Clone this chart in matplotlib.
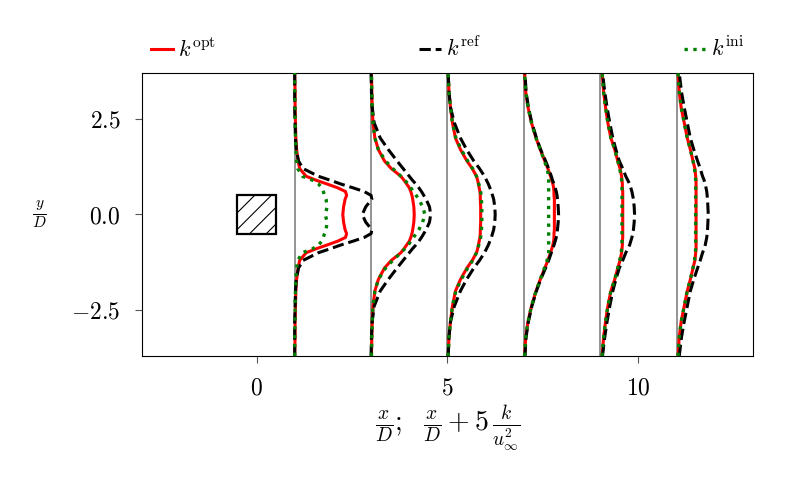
import matplotlib
matplotlib.use("Agg")
import matplotlib.pyplot as plt
from matplotlib.patches import Rectangle

# x/D positions of the sampled profiles
STATIONS = [1, 3, 5, 7, 9, 11]

# y/D sample points (shared by all profiles)
Y = [-3.7, -3.2, -2.8, -2.4, -2.0, -1.7, -1.4, -1.2, -1.0, -0.9, -0.8, -0.7, -0.6, -0.5, -0.4, -0.2,
     0.0, 0.2, 0.4, 0.5, 0.6, 0.7, 0.8, 0.9, 1.0, 1.2, 1.4, 1.7, 2.0, 2.4, 2.8, 3.2, 3.7]

# 5 k / u_inf^2, one row per station
DX_OPT = [
    [0.0, 0.01, 0.01, 0.02, 0.03, 0.05, 0.09, 0.13, 0.3, 0.55, 0.84, 1.12, 1.33, 1.36, 1.32, 1.28, 1.26,
     1.28, 1.32, 1.36, 1.33, 1.12, 0.84, 0.55, 0.3, 0.13, 0.09, 0.05, 0.03, 0.02, 0.01, 0.01, 0.0],
    [0.01, 0.02, 0.03, 0.05, 0.1, 0.19, 0.35, 0.53, 0.78, 0.86, 0.93, 1.0, 1.04, 1.07, 1.09, 1.12, 1.13,
     1.12, 1.09, 1.07, 1.04, 1.0, 0.93, 0.86, 0.78, 0.53, 0.35, 0.19, 0.1, 0.05, 0.03, 0.02, 0.01],
    [0.02, 0.04, 0.08, 0.13, 0.21, 0.34, 0.51, 0.65, 0.76, 0.79, 0.81, 0.83, 0.85, 0.86, 0.86, 0.87, 0.87,
     0.87, 0.86, 0.86, 0.85, 0.83, 0.81, 0.79, 0.76, 0.65, 0.51, 0.34, 0.21, 0.13, 0.08, 0.04, 0.02],
    [0.02, 0.05, 0.11, 0.2, 0.32, 0.43, 0.55, 0.63, 0.7, 0.73, 0.76, 0.78, 0.79, 0.79, 0.8, 0.8, 0.8,
     0.8, 0.8, 0.79, 0.79, 0.78, 0.76, 0.73, 0.7, 0.63, 0.55, 0.43, 0.32, 0.2, 0.11, 0.05, 0.02],
    [0.05, 0.09, 0.14, 0.2, 0.28, 0.38, 0.46, 0.52, 0.56, 0.57, 0.58, 0.58, 0.59, 0.59, 0.59, 0.59, 0.59,
     0.59, 0.59, 0.59, 0.59, 0.58, 0.58, 0.57, 0.56, 0.52, 0.46, 0.38, 0.28, 0.2, 0.14, 0.09, 0.05],
    [0.04, 0.07, 0.12, 0.2, 0.28, 0.36, 0.43, 0.48, 0.5, 0.51, 0.51, 0.51, 0.51, 0.51, 0.51, 0.51, 0.51,
     0.51, 0.51, 0.51, 0.51, 0.51, 0.51, 0.51, 0.5, 0.48, 0.43, 0.36, 0.28, 0.2, 0.12, 0.07, 0.04],
]

DX_REF = [
    [0.0, 0.0, 0.0, 0.01, 0.02, 0.04, 0.1, 0.22, 0.62, 0.92, 1.2, 1.52, 1.82, 2.0, 2.02, 1.86, 1.77,
     1.86, 2.02, 2.0, 1.82, 1.52, 1.2, 0.92, 0.62, 0.22, 0.1, 0.04, 0.02, 0.01, 0.0, 0.0, 0.0],
    [0.0, 0.01, 0.03, 0.08, 0.24, 0.45, 0.68, 0.84, 1.0, 1.08, 1.17, 1.25, 1.32, 1.38, 1.44, 1.53, 1.56,
     1.53, 1.44, 1.38, 1.32, 1.25, 1.17, 1.08, 1.0, 0.84, 0.68, 0.45, 0.24, 0.08, 0.03, 0.01, 0.0],
    [0.02, 0.04, 0.08, 0.18, 0.34, 0.5, 0.69, 0.84, 0.97, 1.02, 1.07, 1.11, 1.15, 1.18, 1.21, 1.24, 1.25,
     1.24, 1.21, 1.18, 1.15, 1.11, 1.07, 1.02, 0.97, 0.84, 0.69, 0.5, 0.34, 0.18, 0.08, 0.04, 0.02],
    [0.03, 0.06, 0.12, 0.21, 0.33, 0.44, 0.57, 0.65, 0.72, 0.75, 0.79, 0.82, 0.85, 0.87, 0.88, 0.9, 0.91,
     0.9, 0.88, 0.87, 0.85, 0.82, 0.79, 0.75, 0.72, 0.65, 0.57, 0.44, 0.33, 0.21, 0.12, 0.06, 0.03],
    [0.06, 0.12, 0.18, 0.25, 0.33, 0.41, 0.5, 0.59, 0.67, 0.72, 0.77, 0.8, 0.83, 0.85, 0.87, 0.89, 0.9,
     0.89, 0.87, 0.85, 0.83, 0.8, 0.77, 0.72, 0.67, 0.59, 0.5, 0.41, 0.33, 0.25, 0.18, 0.12, 0.06],
    [0.07, 0.13, 0.2, 0.28, 0.36, 0.45, 0.55, 0.62, 0.68, 0.72, 0.75, 0.77, 0.79, 0.8, 0.81, 0.82, 0.83,
     0.82, 0.81, 0.8, 0.79, 0.77, 0.75, 0.72, 0.68, 0.62, 0.55, 0.45, 0.36, 0.28, 0.2, 0.13, 0.07],
]

DX_INI = [
    [0.0, 0.0, 0.01, 0.01, 0.02, 0.03, 0.05, 0.08, 0.2, 0.46, 0.62, 0.71, 0.75, 0.78, 0.82, 0.85, 0.8,
     0.85, 0.82, 0.78, 0.75, 0.71, 0.62, 0.46, 0.2, 0.08, 0.05, 0.03, 0.02, 0.01, 0.01, 0.0, 0.0],
    [0.01, 0.02, 0.03, 0.05, 0.1, 0.19, 0.38, 0.57, 0.78, 0.88, 0.97, 1.04, 1.11, 1.18, 1.25, 1.35, 1.41,
     1.35, 1.25, 1.18, 1.11, 1.04, 0.97, 0.88, 0.78, 0.57, 0.38, 0.19, 0.1, 0.05, 0.03, 0.02, 0.01],
    [0.02, 0.04, 0.08, 0.13, 0.22, 0.36, 0.53, 0.66, 0.76, 0.79, 0.82, 0.85, 0.87, 0.88, 0.89, 0.9, 0.9,
     0.9, 0.89, 0.88, 0.87, 0.85, 0.82, 0.79, 0.76, 0.66, 0.53, 0.36, 0.22, 0.13, 0.08, 0.04, 0.02],
    [0.02, 0.05, 0.11, 0.2, 0.32, 0.43, 0.54, 0.61, 0.65, 0.65, 0.65, 0.65, 0.65, 0.65, 0.65, 0.65, 0.65,
     0.65, 0.65, 0.65, 0.65, 0.65, 0.65, 0.65, 0.65, 0.61, 0.54, 0.43, 0.32, 0.2, 0.11, 0.05, 0.02],
    [0.05, 0.09, 0.14, 0.2, 0.28, 0.38, 0.46, 0.51, 0.55, 0.56, 0.57, 0.57, 0.57, 0.57, 0.57, 0.57, 0.57,
     0.57, 0.57, 0.57, 0.57, 0.57, 0.57, 0.56, 0.55, 0.51, 0.46, 0.38, 0.28, 0.2, 0.14, 0.09, 0.05],
    [0.04, 0.07, 0.12, 0.2, 0.28, 0.36, 0.43, 0.47, 0.49, 0.5, 0.5, 0.5, 0.5, 0.5, 0.5, 0.5, 0.5,
     0.5, 0.5, 0.5, 0.5, 0.5, 0.5, 0.5, 0.49, 0.47, 0.43, 0.36, 0.28, 0.2, 0.12, 0.07, 0.04],
]

plt.rcParams.update({
    "font.family": "serif",
    "font.serif": ["cmr10"],
    "mathtext.fontset": "cm",
    "axes.formatter.use_mathtext": True,
    "font.size": 14,
    "hatch.linewidth": 0.8,
})

fig = plt.figure(figsize=(7.93, 4.9), dpi=100)
ax = fig.add_axes([0.179, 0.2735, 0.7705, 0.5775])

for i, x0 in enumerate(STATIONS):
    ax.axvline(x0, color="grey", lw=1.2, zorder=1)
    ax.plot([x0 + d for d in DX_OPT[i]], Y, color="red", lw=2.2, zorder=2,
            label=r"$k^{\mathrm{opt}}$" if i == 0 else None)
    ax.plot([x0 + d for d in DX_REF[i]], Y, color="black", ls="--", lw=2.2, zorder=3,
            label=r"$k^{\mathrm{ref}}$" if i == 0 else None)
    ax.plot([x0 + d for d in DX_INI[i]], Y, color="green", ls=":", lw=2.4, zorder=4,
            label=r"$k^{\mathrm{ini}}$" if i == 0 else None)

# square cylinder
ax.add_patch(Rectangle((-0.5, -0.5), 1, 1, fill=False, hatch="//", lw=1.6,
                       edgecolor="black", zorder=5))

ax.set_xlim(-3, 13)
ax.set_ylim(-3.7, 3.7)
ax.set_xticks([0, 5, 10])
ax.set_yticks([-2.5, 0, 2.5])
ax.tick_params(direction="out", length=5, pad=10.5, color="#555555", labelsize=17)

ax.set_xlabel(r"$\frac{x}{D};\ \ \frac{x}{D} + 5\,\frac{k}{u_\infty^2}$", fontsize=20, labelpad=3)
ax.set_ylabel(r"$\frac{y}{D}$", fontsize=16, rotation=0, ha="center", va="center")
ax.yaxis.set_label_coords(-0.167, 0.5)

ax.legend(loc="lower left", bbox_to_anchor=(0, 1.012, 1, 0.1), mode="expand", ncol=3,
          frameon=False, borderaxespad=0, fontsize=16, handlelength=1.0, handletextpad=0.2)

fig.savefig("out.png", dpi=100)
